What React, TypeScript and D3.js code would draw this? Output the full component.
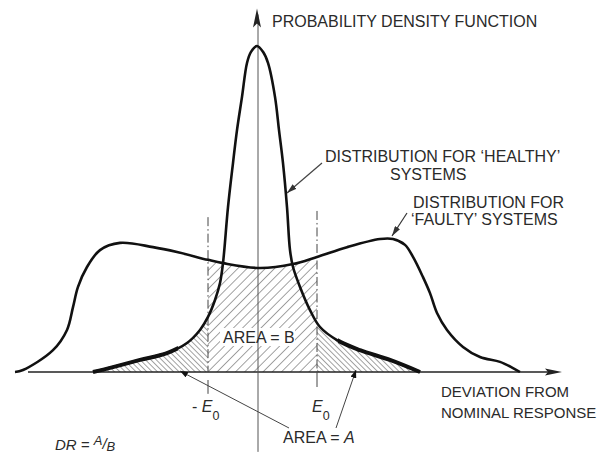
import { scaleLinear, line as d3_line, area as d3_area, curveCatmullRom } from "d3";

// curve readings, deviation units (x) vs density (y, peak of healthy = 1)
const healthyU = [-16.5, -14.5, -11.8, -9.1, -7.1, -5.8, -5.0, -4.3, -3.8, -3.5, -3.0, -2.5, -2.1, -1.6, -1.1, -0.7, -0.1, 0.5, 1.0, 1.7, 2.1, 2.5, 2.9, 3.2, 3.5, 4.2, 5.2, 6.2, 7.9, 10.2, 13.2, 16.2];
const healthyV = [0, 0.015, 0.037, 0.058, 0.089, 0.129, 0.169, 0.221, 0.273, 0.334, 0.506, 0.641, 0.742, 0.844, 0.948, 0.982, 1.0, 0.982, 0.948, 0.844, 0.742, 0.641, 0.506, 0.374, 0.322, 0.261, 0.19, 0.138, 0.098, 0.067, 0.037, 0];

const faultyU = [-24.3, -23.5, -20.5, -19.1, -18.5, -18.0, -17.1, -15.8, -13.8, -10.5, -8.1, -5.0, -3.5, 0.2, 3.5, 5.9, 8.9, 12.2, 13.5, 14.7, 15.5, 16.5, 17.2, 17.9, 18.9, 20.5, 22.2, 24.2, 25.5, 26.2];
const faultyV = [0, 0.006, 0.067, 0.129, 0.199, 0.261, 0.322, 0.374, 0.396, 0.383, 0.368, 0.344, 0.334, 0.319, 0.331, 0.353, 0.383, 0.408, 0.408, 0.39, 0.353, 0.291, 0.242, 0.181, 0.129, 0.077, 0.046, 0.031, 0.012, 0];

const eNeg = -5.0;
const ePos = 5.9;
const xAxisExtent = [-23, 30.4];
const yAxisExtent = [-0.245, 1.115];
const eNegLine = [-0.067, 0.475];
const ePosLine = [-0.046, 0.494];

type Pt = { u: number; v: number };
const healthy: Pt[] = healthyU.map((u, i) => ({ u, v: healthyV[i] }));
const faulty: Pt[] = faultyU.map((u, i) => ({ u, v: faultyV[i] }));

const font = "'Liberation Sans', Arial, sans-serif";
const ink = "#2a2a2a";

export default function App() {
  const x = scaleLinear().domain([-23, 30.4]).range([28, 562]);
  const y = scaleLinear().domain([0, 1]).range([372, 46]);

  const curve = curveCatmullRom.alpha(0.5);
  const line = d3_line<Pt>()
    .x((d) => x(d.u))
    .y((d) => Math.min(y(0), y(d.v)))
    .curve(curve);
  const area = d3_area<Pt>()
    .x((d) => x(d.u))
    .y0(y(0))
    .y1((d) => y(d.v))
    .curve(curve);

  const x0 = x(eNeg);
  const x1 = x(ePos);
  const ax = x(xAxisExtent[1]);
  const ay = y(yAxisExtent[1]);

  return (
    <svg
      width={604}
      height={455}
      style={{ position: "absolute", left: 0, top: 0, background: "#fff" }}
    >
      <defs>
        <pattern id="hatchB" width={6.5} height={6.5} patternUnits="userSpaceOnUse" patternTransform="rotate(45)">
          <line x1={0} y1={0} x2={0} y2={6.5} stroke="#333" strokeWidth={0.9} />
        </pattern>
        <pattern id="hatchA" width={3.8} height={3.8} patternUnits="userSpaceOnUse" patternTransform="rotate(-45)">
          <line x1={0} y1={0} x2={0} y2={3.8} stroke="#333" strokeWidth={0.9} />
        </pattern>
        <clipPath id="inside">
          <rect x={x0} y={0} width={x1 - x0} height={y(0)} />
        </clipPath>
        <clipPath id="outside">
          <rect x={0} y={0} width={x0} height={y(0)} />
          <rect x={x1} y={0} width={604 - x1} height={y(0)} />
        </clipPath>
        <clipPath id="tails">
          <rect x={0} y={0} width={x(-8)} height={y(0) + 2} />
          <rect x={x(8)} y={0} width={604} height={y(0) + 2} />
        </clipPath>
        <marker id="arr" viewBox="0 0 10 6" refX={10} refY={3} markerWidth={10} markerHeight={6} markerUnits="userSpaceOnUse" orient="auto">
          <path d="M0,0 L10,3 L0,6 Z" fill="#333" />
        </marker>
        <marker id="dot" viewBox="0 0 8 6" refX={8} refY={3} markerWidth={8} markerHeight={6} markerUnits="userSpaceOnUse" orient="auto">
          <path d="M0,0 L8,3 L0,6 Z" fill="#111" />
        </marker>
      </defs>

      {/* hatched areas */}
      <path d={area(faulty) ?? ""} fill="url(#hatchB)" clipPath="url(#inside)" />
      <path d={area(healthy) ?? ""} fill="url(#hatchA)" clipPath="url(#outside)" />
      <rect x={220} y={328} width={75} height={18} fill="#fff" />

      {/* axes */}
      <line x1={x(xAxisExtent[0])} x2={ax - 8} y1={y(0)} y2={y(0)} stroke="#222" strokeWidth={1.3} />
      <path d={`M${ax},${y(0)} L${ax - 17},${y(0) - 3.5} L${ax - 14},${y(0)} L${ax - 17},${y(0) + 3.5} Z`} fill="#222" />
      <line x1={x(0)} x2={x(0)} y1={y(yAxisExtent[0])} y2={ay + 6} stroke="#555" strokeWidth={1} />
      <path d={`M${x(0) - 1},${ay} L${x(0) - 5},${ay + 19} L${x(0) - 1},${ay + 15} L${x(0) + 3},${ay + 19} Z`} fill="#222" />

      {/* +/- E0 limits */}
      <line x1={x0} x2={x0} y1={y(eNegLine[1])} y2={y(0)} stroke="#444" strokeWidth={1} strokeDasharray="9,3,1.5,3" />
      <line x1={x0} x2={x0} y1={y(0) + 8} y2={y(eNegLine[0])} stroke="#444" strokeWidth={1} />
      <line x1={x1} x2={x1} y1={y(ePosLine[1])} y2={y(0)} stroke="#444" strokeWidth={1} strokeDasharray="9,3,1.5,3" />
      <line x1={x1} x2={x1} y1={y(0)} y2={y(ePosLine[0])} stroke="#444" strokeWidth={1} />

      {/* curves */}
      <path d={line(faulty) ?? ""} fill="none" stroke="#111" strokeWidth={2.6} strokeLinejoin="round" />
      <path d={line(healthy) ?? ""} fill="none" stroke="#111" strokeWidth={2.6} strokeLinejoin="round" />
      <path d={line(healthy) ?? ""} fill="none" stroke="#111" strokeWidth={4} clipPath="url(#tails)" />

      {/* annotation arrows */}
      <line x1={322} y1={163} x2={287} y2={193} stroke="#444" strokeWidth={1.2} markerEnd="url(#arr)" />
      <line x1={407} y1={213} x2={392} y2={236} stroke="#333" strokeWidth={1.2} markerEnd="url(#arr)" />
      <line x1={289} y1={428} x2={180} y2={371} stroke="#444" strokeWidth={1} markerEnd="url(#dot)" />
      <line x1={336} y1={428} x2={356} y2={370} stroke="#444" strokeWidth={1} markerEnd="url(#dot)" />

      {/* labels */}
      <g fontFamily={font} fontSize={16} fill={ink}>
        <text x={272} y={27}>PROBABILITY DENSITY FUNCTION</text>
        <text x={325} y={162}>DISTRIBUTION FOR ‘HEALTHY’</text>
        <text x={390} y={180}>SYSTEMS</text>
        <text x={413} y={208}>DISTRIBUTION FOR</text>
        <text x={411} y={225}>‘FAULTY’ SYSTEMS</text>
        <text x={441} y={397} fontSize={15}>DEVIATION FROM</text>
        <text x={441} y={418} fontSize={15}>NOMINAL RESPONSE</text>
        <text x={223} y={343}>AREA = B</text>
        <text x={283} y={443}>
          AREA = <tspan fontStyle="italic">A</tspan>
        </text>
        <text x={192} y={412}>
          - <tspan fontStyle="italic">E</tspan>
          <tspan fontSize={12.5} dy={8}>0</tspan>
        </text>
        <text x={312} y={412}>
          <tspan fontStyle="italic">E</tspan>
          <tspan fontSize={12.5} dy={8}>0</tspan>
        </text>
        <text x={55} y={450} fontSize={15} fontStyle="italic">
          DR = <tspan dy={-5} fontSize={13}>A</tspan>
          <tspan dy={4} fontSize={15}>/</tspan>
          <tspan dy={2} fontSize={13}>B</tspan>
        </text>
      </g>
    </svg>
  );
}
